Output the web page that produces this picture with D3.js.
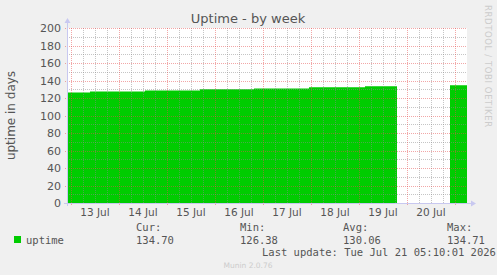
<!DOCTYPE html>
<html>
<head>
<meta charset="utf-8">
<title>Uptime - by week</title>
<script src="https://d3js.org/d3.v7.min.js"></script>
<style>
  body { margin: 0; background: #f0f0f0; }
  text { font-family: "DejaVu Sans", sans-serif; }
  .mono { font-family: "DejaVu Sans Mono", monospace; }
</style>
</head>
<body>
<svg width="497" height="275"></svg>
<script>
// data: each value holds from its time until the next time, null = no data
const times = ["2026-07-12T22:00", "2026-07-13T09:30", "2026-07-14T13:00", "2026-07-15T16:30",
               "2026-07-16T19:30", "2026-07-17T23:00", "2026-07-19T03:00", "2026-07-19T19:00",
               "2026-07-20T21:30", "2026-07-21T06:00"];
const uptime = [126.38, 127.5, 128.7, 129.9, 131.0, 132.2, 133.3, null, 134.7, null];
const yTicks = [0, 20, 40, 60, 80, 100, 120, 140, 160, 180, 200];
const legendCols = ["Cur:", "Min:", "Avg:", "Max:"];
const legendVals = ["134.70", "126.38", "130.06", "134.71"];

const svg = d3.select("svg");
const parse = d3.timeParse("%Y-%m-%dT%H:%M");
const dates = times.map(parse);

const pLeft = 67, pRight = 467, pTop = 28, pBottom = 203;
const x = d3.scaleTime().domain([dates[0], dates[dates.length - 1]]).range([pLeft, pRight]);
const y = d3.scaleLinear().domain([0, 200]).range([pBottom, pTop]);

// canvas + plot background
svg.append("rect").attr("width", 497).attr("height", 275).attr("fill", "#f0f0f0");
svg.append("rect").attr("x", pLeft).attr("y", pTop).attr("width", pRight - pLeft).attr("height", pBottom - pTop).attr("fill", "#ffffff");

// step area
const pts = [];
for (let i = 0; i < dates.length - 1; i++) {
  pts.push({ t: dates[i], v: uptime[i] });
  pts.push({ t: dates[i + 1], v: uptime[i] });
}
const area = d3.area()
  .defined(d => d.v != null)
  .x(d => x(d.t))
  .y0(y(0))
  .y1(d => y(d.v));
svg.append("path").attr("d", area(pts)).attr("fill", "#00cc00");

// grid (drawn on top like rrdtool)
const grid = svg.append("g");
const minorX = d3.timeHour.every(6).range(dates[0], dates[dates.length - 1]).filter(d => d.getHours() !== 0);
const majorX = d3.timeDay.range(dates[0], dates[dates.length - 1]);
const minorY = d3.range(10, 200, 20);

grid.selectAll(".mx").data(minorX).join("line")
  .attr("x1", d => Math.round(x(d)) + 0.5).attr("x2", d => Math.round(x(d)) + 0.5)
  .attr("y1", pTop).attr("y2", pBottom)
  .attr("stroke", "rgba(140,140,140,0.5)").attr("stroke-dasharray", "1,1");
grid.selectAll(".my").data(minorY).join("line")
  .attr("x1", pLeft).attr("x2", pRight)
  .attr("y1", d => Math.round(y(d)) + 0.5).attr("y2", d => Math.round(y(d)) + 0.5)
  .attr("stroke", "rgba(140,140,140,0.5)").attr("stroke-dasharray", "1,1");
grid.selectAll(".Mx").data(majorX).join("line")
  .attr("x1", d => Math.round(x(d)) + 0.5).attr("x2", d => Math.round(x(d)) + 0.5)
  .attr("y1", pTop).attr("y2", pBottom + 2)
  .attr("stroke", "rgba(230,80,80,0.5)").attr("stroke-dasharray", "1,1");
grid.selectAll(".My").data(yTicks.filter(d => d > 0)).join("line")
  .attr("x1", pLeft - 2).attr("x2", pRight)
  .attr("y1", d => Math.round(y(d)) + 0.5).attr("y2", d => Math.round(y(d)) + 0.5)
  .attr("stroke", "rgba(230,80,80,0.5)").attr("stroke-dasharray", "1,1");

// axes with arrows
const axisCol = "#c8c8f0";
svg.append("line").attr("x1", pLeft + 0.5).attr("x2", pLeft + 0.5).attr("y1", pBottom + 3).attr("y2", pTop - 6)
  .attr("stroke", axisCol);
svg.append("path").attr("d", `M${pLeft - 2.5},${pTop - 5} L${pLeft + 3.5},${pTop - 5} L${pLeft + 0.5},${pTop - 10} Z`).attr("fill", axisCol);
svg.append("line").attr("x1", pLeft - 3).attr("x2", pRight + 5).attr("y1", pBottom + 0.5).attr("y2", pBottom + 0.5)
  .attr("stroke", axisCol);
svg.append("path").attr("d", `M${pRight + 4},${pBottom - 2.5} L${pRight + 4},${pBottom + 3.5} L${pRight + 9},${pBottom + 0.5} Z`).attr("fill", axisCol);

// y labels
svg.selectAll(".yl").data(yTicks).join("text")
  .attr("x", pLeft - 6).attr("y", d => y(d) + 4)
  .attr("text-anchor", "end").attr("font-size", 11).attr("fill", "#555")
  .text(d => d);

// x labels at noon
const noon = majorX.map(d => d3.timeHour.offset(d, 12)).filter(d => d < dates[dates.length - 1]);
svg.selectAll(".xl").data(noon).join("text")
  .attr("x", d => x(d)).attr("y", 216)
  .attr("text-anchor", "middle").attr("font-size", 10.5).attr("fill", "#555")
  .text(d3.timeFormat("%-d %b"));

// titles
svg.append("text").attr("x", 248).attr("y", 23).attr("text-anchor", "middle")
  .attr("font-size", 13).attr("fill", "#555").text("Uptime - by week");
svg.append("text").attr("transform", `translate(15,${(pTop + pBottom) / 2}) rotate(-90)`)
  .attr("text-anchor", "middle").attr("font-size", 12).attr("fill", "#555").text("uptime in days");
svg.append("text").attr("transform", "translate(485,5) rotate(90)")
  .attr("font-size", 8.5).attr("letter-spacing", 0.6).attr("fill", "#ccc").text("RRDTOOL / TOBI OETIKER");

// legend
svg.append("rect").attr("x", 14).attr("y", 236).attr("width", 7).attr("height", 7).attr("fill", "#00cc00");
svg.append("text").attr("class", "mono").attr("x", 26).attr("y", 243.5)
  .attr("font-size", 10.5).attr("fill", "#555").text("uptime");
const colX = [136, 240, 343, 447];
svg.selectAll(".lh").data(legendCols).join("text").attr("class", "mono")
  .attr("x", (d, i) => colX[i]).attr("y", 231)
  .attr("font-size", 10.5).attr("fill", "#555").text(d => d);
svg.selectAll(".lv").data(legendVals).join("text").attr("class", "mono")
  .attr("x", (d, i) => colX[i]).attr("y", 243.5)
  .attr("font-size", 10.5).attr("fill", "#555").text(d => d);
svg.append("text").attr("class", "mono").attr("x", 262).attr("y", 255.5)
  .attr("font-size", 10.5).attr("fill", "#555").text("Last update: Tue Jul 21 05:10:01 2026");
svg.append("text").attr("x", 248).attr("y", 268).attr("text-anchor", "middle")
  .attr("font-size", 7.5).attr("fill", "#ccc").text("Munin 2.0.76");
</script>
</body>
</html>
